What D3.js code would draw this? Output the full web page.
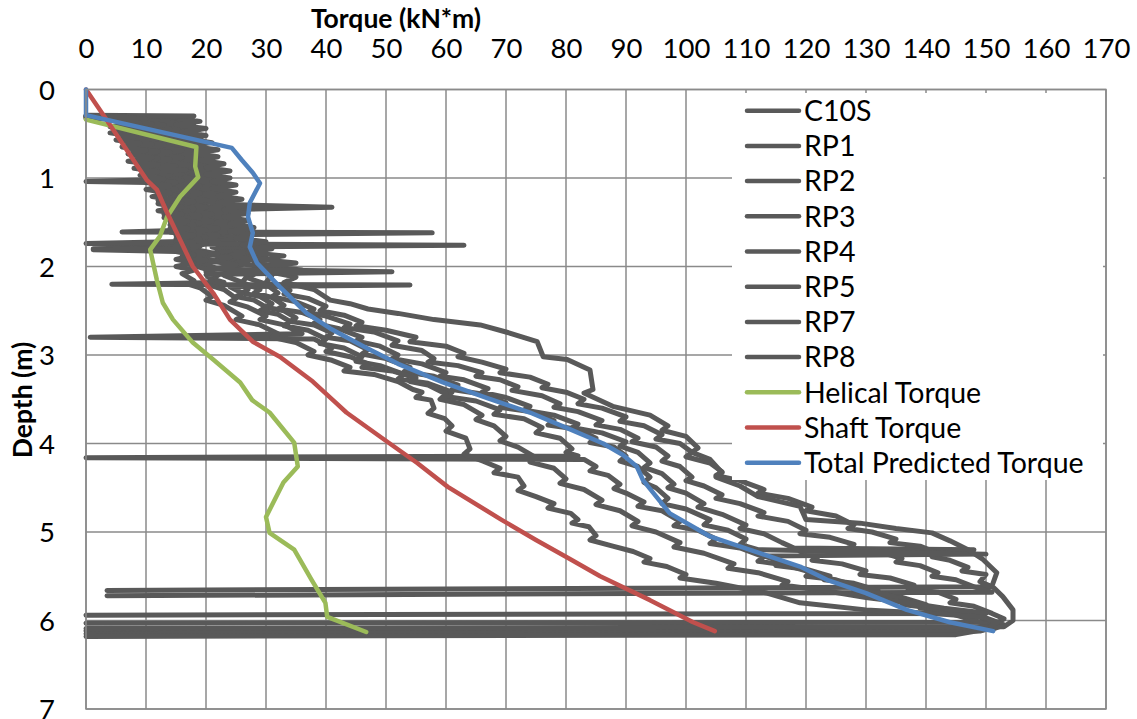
<!DOCTYPE html>
<html><head><meta charset="utf-8">
<script src="https://cdn.jsdelivr.net/npm/d3@7"></script>
<style>
html,body{margin:0;padding:0;background:#fff;}
svg text{font-family:Lato,"Open Sans",sans-serif;fill:#000;}
</style></head>
<body><svg id="chart" width="1137" height="719"></svg>
<script>
// ---------- data: [torque (kN*m), depth (m)] ----------
const seriesNames = ["C10S","RP1","RP2","RP3","RP4","RP5","RP7","RP8","Helical Torque","Shaft Torque","Total Predicted Torque"];
const xTicks = [0,10,20,30,40,50,60,70,80,90,100,110,120,130,140,150,160,170];
const yTicks = [0,1,2,3,4,5,6,7];

const c10s = [[0,0.32],[15,0.33],[12,0.36],[16,0.38],[11,0.42],[14,0.45],[10,0.49],[14,0.52],[12,0.57],[16,0.6],[12,0.64],[17,0.68],[13,0.72],[17,0.76],[14,0.8],[18,0.83],[15,0.87],[19,0.9],[16,0.94],[19,0.98],[16,1.01],[0,1.04],[18,1.06],[21,1.1],[17,1.14],[21,1.18],[18,1.22],[22,1.26],[18,1.3],[22,1.34],[19,1.38],[23,1.42],[19,1.46],[23,1.5],[20,1.54],[24,1.58],[21,1.62],[24,1.66],[21,1.7],[25,1.74],[22,1.78],[25,1.82],[22,1.86],[26,1.9],[23,1.94],[26,1.98],[24,2.02],[27,2.1],[26,2.18],[29,2.26],[28,2.3],[31,2.35],[33,2.44],[32,2.48],[36,2.52],[39,2.6],[38,2.64],[42,2.7],[46,2.8],[45,2.84],[49,2.9],[52,3.0],[51,3.04],[56,3.1],[60,3.2],[59,3.24],[63,3.28],[67,3.38],[66,3.42],[70,3.48],[74,3.58],[73,3.62],[78,3.68],[82,3.78],[81,3.82],[86,3.88],[90,3.98],[89,4.03],[92,4.1],[94,4.22],[93,4.27],[96,4.34],[98,4.46],[97,4.5],[100,4.56],[103,4.68],[102,4.72],[106,4.8],[110,4.92],[109,4.96],[113,5.02],[116,5.12],[118,5.18],[148,5.2],[119,5.22],[122,5.28],[121,5.32],[126,5.36],[130,5.44],[129,5.48],[134,5.52],[138,5.6],[137,5.64],[142,5.68],[145,5.76],[144,5.8],[148,5.84],[151,5.92],[153,5.98],[152,6.02],[0,6.03]];
const rp1 = [[0,0.31],[17,0.32],[14,0.35],[18,0.38],[14,0.41],[19,0.45],[15,0.48],[19,0.52],[16,0.56],[20,0.6],[16,0.64],[21,0.68],[17,0.72],[21,0.76],[18,0.8],[22,0.84],[19,0.88],[23,0.92],[19,0.96],[23,1.0],[20,1.04],[24,1.08],[21,1.12],[24,1.16],[21,1.2],[25,1.24],[22,1.28],[24,1.3],[41,1.33],[22,1.36],[26,1.4],[22,1.44],[26,1.48],[23,1.52],[27,1.56],[23,1.6],[27,1.64],[24,1.68],[28,1.72],[24,1.76],[28,1.8],[25,1.85],[30,1.9],[28,1.96],[32,2.0],[29,2.04],[31,2.1],[30,2.18],[34,2.27],[33,2.31],[37,2.36],[40,2.45],[39,2.5],[43,2.55],[46,2.63],[45,2.67],[50,2.72],[55,2.8],[54,2.85],[60,2.9],[63,2.98],[62,3.02],[66,3.08],[70,3.16],[69,3.2],[74,3.25],[77,3.33],[76,3.37],[80,3.42],[83,3.5],[82,3.55],[86,3.6],[90,3.7],[89,3.75],[93,3.8],[96,3.9],[95,3.95],[99,4.0],[101,4.1],[100,4.15],[104,4.22],[106,4.32],[105,4.36],[109,4.42],[113,4.52],[112,4.56],[117,4.62],[121,4.72],[120,4.76],[125,4.82],[128,4.92],[127,4.96],[131,5.0],[135,5.08],[134,5.12],[139,5.16],[142,5.24],[141,5.28],[144,5.32],[147,5.4],[146,5.44],[150,5.48],[149,5.56],[151,5.62],[3.5,5.66]];
const rp2 = [[0,0.3],[16,0.31],[13,0.34],[17,0.37],[12,0.4],[16,0.44],[12,0.47],[17,0.51],[13,0.55],[18,0.59],[14,0.63],[19,0.67],[15,0.71],[19,0.75],[16,0.79],[20,0.83],[17,0.87],[21,0.91],[17,0.95],[22,0.99],[18,1.03],[22,1.07],[19,1.11],[23,1.15],[19,1.19],[23,1.23],[20,1.27],[24,1.31],[20,1.35],[24,1.39],[21,1.43],[25,1.47],[21,1.51],[25,1.55],[22,1.58],[6,1.61],[57.7,1.62],[23,1.64],[26,1.68],[22,1.72],[26,1.76],[23,1.8],[27,1.84],[24,1.88],[28,1.92],[25,1.96],[29,2.0],[27,2.05],[28,2.09],[27,2.13],[30,2.2],[32,2.3],[31,2.34],[35,2.4],[38,2.48],[37,2.52],[40,2.56],[44,2.65],[43,2.69],[48,2.74],[52,2.84],[51,2.89],[56,2.95],[58,3.04],[57,3.08],[62,3.12],[66,3.2],[65,3.24],[69,3.28],[72,3.36],[71,3.4],[76,3.46],[79,3.55],[78,3.59],[82,3.64],[86,3.74],[85,3.79],[89,3.84],[92,3.94],[91,3.98],[95,4.04],[97,4.14],[96,4.2],[99,4.26],[101,4.38],[100,4.42],[103,4.48],[106,4.58],[105,4.62],[109,4.68],[113,4.78],[112,4.82],[117,4.88],[120,4.98],[119,5.02],[124,5.06],[128,5.14],[127,5.18],[132,5.22],[136,5.3],[135,5.34],[139,5.38],[142,5.46],[141,5.5],[145,5.54],[148,5.62],[151,5.68],[3.5,5.72]];
const rp3 = [[0,0.3],[14,0.32],[11,0.35],[15,0.38],[10,0.42],[14,0.45],[10,0.49],[14,0.53],[11,0.57],[15,0.61],[11,0.65],[16,0.69],[12,0.73],[16,0.77],[13,0.81],[17,0.85],[13,0.89],[17,0.93],[14,0.97],[18,1.01],[15,1.05],[19,1.09],[15,1.13],[19,1.17],[16,1.21],[20,1.25],[16,1.29],[20,1.33],[17,1.37],[21,1.41],[17,1.45],[21,1.49],[18,1.53],[22,1.57],[18,1.61],[22,1.65],[19,1.69],[22,1.71],[0,1.74],[63,1.76],[21,1.78],[24,1.82],[20,1.86],[24,1.9],[21,1.94],[25,1.98],[22,2.02],[25,2.06],[23,2.1],[26,2.18],[27,2.26],[26,2.3],[29,2.34],[31,2.42],[30,2.46],[33,2.5],[35,2.58],[34,2.62],[38,2.66],[41,2.75],[40,2.8],[44,2.84],[47,2.94],[46,2.99],[50,3.04],[54,3.14],[53,3.19],[58,3.24],[62,3.34],[61,3.39],[66,3.44],[70,3.54],[69,3.59],[74,3.64],[78,3.74],[77,3.79],[82,3.84],[85,3.94],[84,3.99],[88,4.04],[90,4.14],[89,4.2],[92,4.26],[94,4.38],[93,4.44],[95,4.5],[97,4.62],[96,4.68],[100,4.74],[104,4.86],[103,4.92],[107,4.98],[110,5.08],[109,5.14],[112,5.2],[150,5.25],[113,5.27],[116,5.34],[115,5.38],[120,5.42],[124,5.5],[123,5.54],[128,5.58],[132,5.66],[131,5.7],[136,5.74],[140,5.82],[139,5.86],[145,5.9],[150,5.98],[153,6.05],[151,6.1],[0,6.12]];
const rp4 = [[0,0.33],[12,0.34],[9,0.37],[13,0.4],[8,0.44],[12,0.47],[8,0.51],[12,0.55],[9,0.59],[13,0.63],[9,0.67],[14,0.71],[10,0.75],[14,0.79],[11,0.83],[15,0.87],[11,0.91],[16,0.95],[12,0.99],[16,1.03],[13,1.07],[17,1.11],[13,1.15],[17,1.19],[14,1.23],[18,1.27],[14,1.31],[18,1.35],[15,1.39],[19,1.43],[15,1.47],[19,1.51],[16,1.55],[20,1.59],[16,1.63],[20,1.67],[17,1.71],[20,1.74],[18,1.78],[1.2,1.8],[19,1.82],[22,1.86],[18,1.9],[22,1.94],[19,1.98],[22,2.02],[20,2.06],[22,2.1],[21,2.14],[23,2.18],[4.3,2.2],[54,2.21],[24,2.23],[26,2.3],[25,2.34],[28,2.38],[30,2.46],[29,2.5],[32,2.54],[34,2.62],[33,2.67],[37,2.72],[40,2.82],[39,2.87],[43,2.92],[46,3.02],[45,3.07],[49,3.12],[53,3.22],[52,3.27],[57,3.32],[61,3.42],[60,3.47],[65,3.52],[69,3.62],[68,3.67],[73,3.72],[76,3.82],[75,3.88],[79,3.94],[81,4.06],[80,4.1],[82,4.14],[0,4.16],[83,4.18],[85,4.26],[84,4.31],[87,4.36],[89,4.46],[88,4.51],[90,4.56],[93,4.66],[92,4.71],[96,4.76],[99,4.88],[98,4.93],[102,4.98],[105,5.08],[104,5.13],[109,5.18],[113,5.28],[112,5.33],[117,5.38],[121,5.46],[120,5.5],[125,5.54],[129,5.62],[128,5.66],[133,5.7],[137,5.78],[136,5.82],[141,5.86],[145,5.94],[149,6.02],[151,6.08],[149,6.12],[0,6.15]];
const rp5 = [[0,0.29],[18,0.3],[16,0.33],[19,0.36],[15,0.4],[20,0.44],[16,0.48],[20,0.52],[17,0.56],[21,0.6],[17,0.64],[22,0.68],[18,0.72],[22,0.76],[19,0.8],[23,0.84],[20,0.88],[24,0.92],[20,0.96],[24,1.0],[21,1.04],[25,1.08],[21,1.12],[25,1.16],[22,1.2],[26,1.24],[22,1.28],[26,1.32],[23,1.36],[27,1.4],[23,1.44],[27,1.48],[24,1.52],[28,1.56],[24,1.6],[28,1.64],[25,1.68],[30,1.72],[26,1.76],[31,1.8],[27,1.84],[33,1.88],[29,1.92],[35,1.96],[30,2.0],[36,2.04],[32,2.08],[35,2.12],[33,2.18],[38,2.26],[40.7,2.38],[44,2.42],[47,2.48],[52,2.53],[58,2.6],[65.7,2.66],[70,2.74],[75.2,2.85],[76.2,3.02],[80.2,3.05],[84,3.17],[84.5,3.39],[83,3.43],[87.8,3.58],[94,3.68],[97,3.8],[96,3.85],[100,3.92],[102,4.05],[101,4.1],[104,4.18],[106,4.33],[105,4.38],[109,4.48],[112,4.6],[119,4.71],[120,4.86],[129,4.9],[135,4.96],[141,5.01],[144,5.1],[147,5.2],[149.5,5.31],[151.8,5.46],[151,5.61],[152.8,5.73],[154.5,5.88],[154.5,6.0],[153,6.07],[0,6.09]];
const rp7 = [[0,0.31],[10,0.33],[7,0.36],[11,0.39],[6,0.43],[10,0.46],[6,0.5],[10,0.54],[7,0.58],[11,0.62],[7,0.66],[12,0.7],[8,0.74],[12,0.78],[9,0.82],[13,0.86],[10.5,0.9],[16.7,0.91],[10,0.93],[14,0.97],[10,1.01],[15,1.05],[11,1.09],[15,1.13],[12,1.17],[16,1.21],[12,1.25],[16,1.29],[13,1.33],[17,1.37],[13,1.41],[17,1.45],[14,1.49],[18,1.53],[14,1.57],[18,1.61],[15,1.65],[19,1.69],[15,1.73],[19,1.77],[16,1.81],[20,1.85],[16,1.89],[20,1.93],[17,1.97],[20,2.03],[51,2.06],[20,2.09],[21,2.16],[20,2.2],[23,2.26],[25,2.36],[24,2.4],[27,2.46],[30,2.56],[29,2.6],[33,2.66],[36,2.76],[0.7,2.8],[38,2.82],[41,2.92],[40,2.96],[44,3.02],[47,3.1],[46,3.14],[51,3.18],[55,3.26],[54,3.3],[57,3.34],[60,3.44],[59,3.5],[63,3.56],[66,3.68],[65,3.73],[68,3.8],[70,3.92],[69,3.97],[72,4.04],[75,4.16],[74,4.21],[78,4.28],[80,4.4],[79,4.45],[83,4.52],[86,4.64],[85,4.69],[89,4.76],[92,4.88],[91,4.93],[95,5.0],[99,5.12],[98,5.17],[103,5.24],[108,5.36],[107,5.41],[112,5.46],[117,5.56],[116,5.6],[123,5.66],[130,5.74],[137,5.8],[143,5.86],[148,5.9],[150,5.92],[0,5.94]];
const rp8 = [[0,0.3],[8,0.32],[5,0.35],[9,0.38],[4,0.42],[8,0.45],[4,0.49],[8,0.53],[5,0.57],[9,0.61],[6,0.65],[10,0.69],[7,0.73],[11,0.77],[7,0.81],[12,0.85],[8,0.89],[12,0.93],[9,0.97],[13,1.01],[10,1.05],[14,1.09],[10,1.13],[14,1.17],[11,1.21],[15,1.25],[12,1.29],[16,1.33],[12,1.37],[16,1.41],[13,1.45],[17,1.49],[14,1.53],[17,1.57],[14,1.61],[18,1.65],[15,1.69],[18,1.73],[15,1.76],[17,1.8],[1.2,1.81],[15,1.83],[18,1.87],[15,1.92],[18,1.96],[15,2.0],[18,2.04],[16,2.08],[18,2.16],[17,2.2],[19,2.24],[21,2.34],[20,2.38],[23,2.44],[26,2.56],[25,2.6],[29,2.66],[32,2.76],[31,2.8],[35,2.86],[38,2.96],[37,3.0],[41,3.06],[44,3.14],[43,3.18],[48,3.22],[52,3.3],[54.5,3.39],[56,3.42],[55,3.48],[57.5,3.51],[58,3.6],[57,3.66],[59.8,3.72],[61,3.8],[60,3.86],[63.3,3.94],[64,4.06],[63,4.12],[66.2,4.2],[69,4.28],[68,4.33],[72,4.38],[73,4.48],[72,4.53],[75,4.6],[78,4.68],[77,4.73],[80.8,4.79],[82,4.86],[81,4.9],[83.8,4.94],[85,5.04],[84,5.09],[87.8,5.16],[91.2,5.22],[94,5.3],[93,5.34],[96.8,5.39],[100,5.48],[99,5.52],[105,5.58],[113.5,5.69],[119,5.8],[130,5.88],[141,5.92],[149.5,5.96],[152,6.02],[150,6.1],[145,6.16],[0,6.18]];

const helical = [[0,0.34],[18.4,0.65],[18.2,0.87],[18.7,0.99],[15.7,1.21],[13.5,1.44],[12.3,1.66],[10.7,1.81],[11.8,2.15],[12.8,2.41],[14.5,2.6],[17.8,2.86],[21.2,3.05],[25.7,3.31],[27.7,3.51],[30.6,3.65],[34.7,3.99],[35.3,4.26],[32.9,4.44],[30,4.83],[30.6,5.01],[34.7,5.2],[37.6,5.54],[39.9,5.8],[40.2,5.96],[46.7,6.13]];
const shaft = [[0,0],[3,0.3],[10.1,1.02],[11.8,1.13],[13.5,1.39],[15.7,1.7],[17.8,2.0],[21.2,2.3],[24,2.6],[27.8,2.85],[32.3,3.02],[37.8,3.3],[41.8,3.55],[43.4,3.65],[49.8,3.96],[55.2,4.22],[60.3,4.49],[69.2,4.86],[75,5.09],[80.8,5.31],[85.7,5.5],[94,5.77],[101.2,6.02],[104.8,6.12]];
const total = [[0,0],[0,0.29],[24.3,0.66],[26,0.8],[27.8,0.94],[29,1.06],[27.3,1.28],[27,1.44],[27.8,1.62],[27.3,1.78],[28.5,1.96],[32.3,2.23],[36.8,2.53],[40.7,2.7],[46.2,2.9],[52,3.1],[59.5,3.31],[67,3.49],[74,3.65],[80.7,3.84],[86.2,4.0],[89.5,4.13],[91.8,4.26],[92.8,4.41],[97.3,4.79],[104,5.05],[112.3,5.24],[119,5.39],[123.5,5.54],[130,5.69],[136.8,5.88],[144,6.02],[151.2,6.12]];

const seriesData = [c10s,rp1,rp2,rp3,rp4,rp5,rp7,rp8,helical,shaft,total];
const colors = ["#595959","#595959","#595959","#595959","#595959","#595959","#595959","#595959","#9BBB59","#C0504D","#4F81BD"];

// ---------- layout ----------
const svg = d3.select("#chart");
const L=86, R=1106, T=89.5, B=709;
const x = d3.scaleLinear().domain([0,170]).range([L,R]);
const y = d3.scaleLinear().domain([0,7]).range([T,B]);
const grid = "#8a8a8a";

svg.append("g").selectAll("line").data(xTicks).join("line")
  .attr("x1",d=>x(d)).attr("x2",d=>x(d)).attr("y1",T).attr("y2",B)
  .attr("stroke",grid).attr("stroke-width",1.5);
svg.append("g").selectAll("line").data(yTicks).join("line")
  .attr("x1",L).attr("x2",R).attr("y1",d=>y(d)).attr("y2",d=>y(d))
  .attr("stroke",grid).attr("stroke-width",1.5);

const line = d3.line().x(d=>x(d[0])).y(d=>y(d[1]));
const gS = svg.append("g").attr("fill","none").attr("stroke-linejoin","round").attr("stroke-linecap","round");
seriesData.forEach((s,i)=>{
  gS.append("path").attr("d",line(s)).attr("stroke",colors[i]).attr("stroke-width",i<8?5:4.5);
});

// legend
const lg = svg.append("g");
lg.append("rect").attr("x",732).attr("y",93).attr("width",371).attr("height",387).attr("fill","#fff");
seriesNames.forEach((n,i)=>{
  const yy = 110.7 + i*35.2;
  lg.append("line").attr("x1",747).attr("x2",799).attr("y1",yy).attr("y2",yy)
    .attr("stroke",colors[i]).attr("stroke-width",4.5).attr("stroke-linecap","round");
  lg.append("text").attr("x",804).attr("y",yy).attr("dy","0.36em").attr("font-size",28.5).text(n);
});

// axes
const xa = d3.axisTop(x).tickValues(xTicks).tickSize(0).tickPadding(0);
const gx = svg.append("g").attr("transform",`translate(0,${T})`).call(xa);
gx.select(".domain").remove();
gx.selectAll("text").attr("font-size",27.5).attr("y",-41).attr("dy","0.36em").style("font-family","Lato, 'Open Sans', sans-serif");
const ya = d3.axisLeft(y).tickValues(yTicks).tickFormat(d3.format("d")).tickSize(0);
const gy = svg.append("g").attr("transform",`translate(${L},0)`).call(ya);
gy.select(".domain").remove();
gy.selectAll("text").attr("font-size",27.5).attr("x",-39).attr("text-anchor","middle").attr("dy","0.36em").style("font-family","Lato, 'Open Sans', sans-serif");

svg.append("rect").attr("x",L).attr("y",T).attr("width",R-L).attr("height",B-T)
  .attr("fill","none").attr("stroke",grid).attr("stroke-width",1.5);

// titles
svg.append("text").attr("x",396).attr("y",18).attr("dy","0.36em").attr("text-anchor","middle")
  .attr("font-size",26.5).attr("font-weight","bold").text("Torque (kN*m)");
svg.append("text").attr("transform","translate(22,400) rotate(-90)").attr("dy","0.36em").attr("text-anchor","middle")
  .attr("font-size",26.5).attr("font-weight","bold").text("Depth (m)");
</script></body></html>
